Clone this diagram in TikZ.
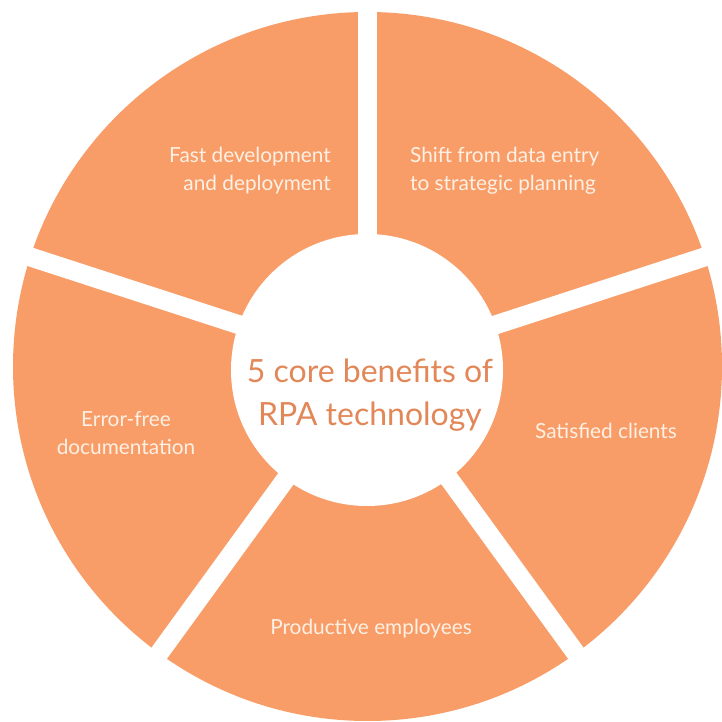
\documentclass[tikz,border=0pt]{standalone}
\usepackage{fontspec}
\setmainfont{Lato}

\definecolor{rpaorange}{RGB}{249,157,104}
\definecolor{rpacenter}{RGB}{226,135,88}
\definecolor{rpalabel}{RGB}{253,240,228}

\tikzset{
  benefit/.style={text=rpalabel, inner sep=0pt, font=\fontsize{20.8}{28}\selectfont},
  hub/.style={text=rpacenter, inner sep=0pt, align=center, font=\fontsize{32}{43}\selectfont},
}

\begin{document}
\begin{tikzpicture}[x=1pt,y=1pt]
        \fill[white] (0,0) rectangle (721,722);
        \useasboundingbox (0,0) rectangle (721,722);
        \coordinate (mid) at (367.5,355.5);

        % kolo
        \fill[rpaorange] (mid) circle (354.5);

        % mezery mezi výsečemi
        \foreach \a in {90,18,-54,-126,162}
          \draw[white, line width=19pt] (mid) -- ++(\a:380);

        % střed
        \fill[white] (367,352) circle (136);

        % popisky
        \node[hub] (core) at (370,327) {5 core benefits of\\RPA technology};
        \node[benefit, align=right, anchor=east] (fast) at (331,551) {Fast development\\and deployment};
        \node[benefit, align=left, anchor=west] (shift) at (410,551) {Shift from data entry\\to strategic planning};
        \node[benefit, align=center] (error) at (126,289) {Error-free\\documentation};
        \node[benefit] (clients) at (606,291) {Satisfied clients};
        \node[benefit] (staff) at (371,93) {Productive employees};
\end{tikzpicture}
\end{document}
